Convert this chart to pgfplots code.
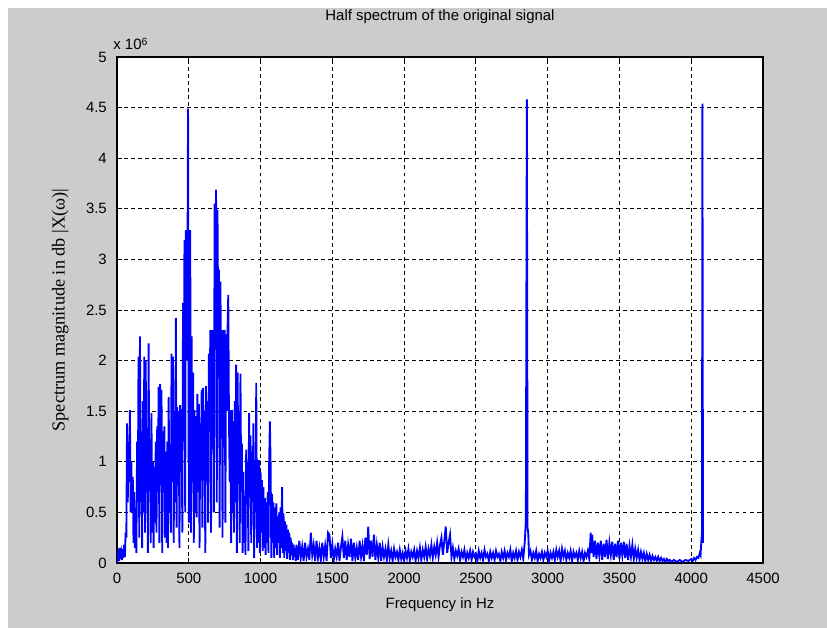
\documentclass[border=0pt]{standalone}
\usepackage{pgfplots}
\pgfplotsset{compat=1.18}
\usepackage{fontspec}
\setmainfont{Liberation Sans}
\newfontfamily\serifface{Liberation Serif}
\definecolor{figgray}{RGB}{204,204,204}
\definecolor{specblue}{RGB}{0,0,255}

% half spectrum, values in units of 10^6
\pgfplotstableread{
f mag
0 0.12
5 0.03
10 0.08
15 0.02
20 0.15
25 0.04
30 0.10
35 0.03
40 0.14
45 0.05
50 0.18
55 0.06
60 0.30
65 0.25
70 1.38
75 0.60
80 1.20
85 0.80
90 1.51
95 0.50
100 1.00
105 0.50
110 0.85
115 0.20
120 0.70
125 0.15
130 0.50
135 0.10
140 1.20
145 0.60
150 2.04
155 0.25
160 2.24
165 0.60
170 1.30
175 0.15
180 1.60
185 0.50
190 2.04
195 0.30
200 2.00
205 0.70
210 1.25
215 0.10
220 2.17
225 0.80
230 1.10
235 0.20
240 1.48
245 0.30
250 1.00
255 0.15
260 0.95
265 0.40
270 1.20
275 0.30
280 1.35
285 0.70
290 1.74
295 0.20
300 1.77
305 0.80
310 1.71
315 0.10
320 1.30
325 0.70
330 1.35
335 0.25
340 1.10
345 0.20
350 1.20
355 0.15
360 1.64
365 0.50
370 1.18
375 0.30
380 2.07
385 0.80
390 2.04
395 0.20
400 1.50
405 0.60
410 2.42
415 0.35
420 1.54
425 0.80
430 1.50
435 0.15
440 1.56
445 0.90
450 1.52
455 0.30
460 2.57
465 1.20
470 3.19
475 0.50
480 3.29
485 2.00
490 2.60
495 4.49
500 0.40
505 3.10
510 3.29
515 0.30
520 2.24
525 0.80
530 1.88
535 0.20
540 1.51
545 0.50
550 1.45
555 0.45
560 1.67
565 0.70
570 1.57
575 0.15
580 1.38
585 1.00
590 1.71
595 0.35
600 1.73
605 0.90
610 1.50
615 0.10
620 1.75
625 1.10
630 1.60
635 0.40
640 2.07
645 1.40
650 2.30
655 0.30
660 2.30
665 1.80
670 2.30
675 0.50
680 3.55
685 2.30
690 3.69
695 0.60
700 3.49
705 2.30
710 2.90
715 0.35
720 2.78
725 2.00
730 2.30
735 0.25
740 2.30
745 1.20
750 2.30
755 0.40
760 2.26
765 1.50
770 2.30
775 2.65
780 1.41
785 0.80
790 1.51
795 0.20
800 1.51
805 0.50
810 1.40
815 0.30
820 1.60
825 0.60
830 1.96
835 0.10
840 1.88
845 0.90
850 1.50
855 0.20
860 1.87
865 0.70
870 1.18
875 0.10
880 0.90
885 0.20
890 0.49
895 0.08
900 1.12
905 0.60
910 1.00
915 0.12
920 1.48
925 0.70
930 1.26
935 0.20
940 1.10
945 0.60
950 1.38
955 0.05
960 0.95
965 0.50
970 1.78
975 0.15
980 1.02
985 0.20
990 1.02
995 0.10
1000 0.90
1005 0.30
1010 0.82
1015 0.12
1020 0.75
1025 0.15
1030 0.64
1035 0.08
1040 0.60
1045 0.20
1050 0.70
1055 0.10
1060 1.00
1065 1.40
1070 0.98
1075 0.05
1080 0.68
1085 0.20
1090 0.60
1095 0.05
1100 0.55
1105 0.15
1110 0.59
1115 0.08
1120 0.46
1125 0.20
1130 0.50
1135 0.05
1140 0.55
1145 0.15
1150 0.75
1155 0.10
1160 0.49
1165 0.05
1170 0.41
1175 0.12
1180 0.38
1185 0.04
1190 0.33
1195 0.10
1200 0.30
1205 0.03
1210 0.25
1215 0.08
1220 0.20
1225 0.03
1230 0.18
1235 0.06
1240 0.15
1245 0.02
1250 0.18
1260 0.03
1270 0.22
1280 0.05
1290 0.16
1300 0.02
1310 0.20
1320 0.06
1330 0.14
1340 0.03
1350 0.30
1360 0.08
1370 0.18
1380 0.02
1390 0.22
1400 0.05
1410 0.15
1420 0.03
1430 0.20
1440 0.06
1450 0.17
1460 0.02
1470 0.30
1480 0.28
1490 0.05
1500 0.18
1510 0.03
1520 0.14
1530 0.06
1540 0.20
1550 0.02
1560 0.16
1570 0.26
1580 0.05
1590 0.22
1600 0.03
1610 0.18
1620 0.06
1630 0.24
1640 0.02
1650 0.20
1660 0.05
1670 0.15
1680 0.03
1690 0.22
1700 0.06
1710 0.17
1720 0.02
1730 0.25
1740 0.08
1750 0.36
1760 0.04
1770 0.22
1780 0.06
1790 0.28
1800 0.03
1810 0.18
1820 0.05
1830 0.20
1840 0.02
1850 0.16
1860 0.06
1870 0.14
1880 0.03
1890 0.18
1900 0.05
1910 0.12
1920 0.02
1930 0.14
1940 0.06
1950 0.11
1960 0.03
1970 0.13
1980 0.04
1990 0.10
2000 0.02
2010 0.12
2020 0.05
2030 0.14
2040 0.03
2050 0.11
2060 0.06
2070 0.13
2080 0.02
2090 0.12
2100 0.05
2110 0.15
2120 0.03
2130 0.13
2140 0.06
2150 0.16
2160 0.04
2170 0.14
2180 0.07
2190 0.18
2200 0.05
2210 0.16
2220 0.08
2230 0.20
2240 0.06
2250 0.18
2260 0.25
2270 0.08
2280 0.22
2290 0.36
2300 0.10
2310 0.20
2320 0.28
2330 0.06
2340 0.15
2350 0.04
2360 0.12
2370 0.07
2380 0.14
2390 0.03
2400 0.11
2410 0.06
2420 0.13
2430 0.02
2440 0.10
2450 0.05
2460 0.12
2470 0.03
2480 0.11
2490 0.06
2500 0.09
2510 0.02
2520 0.12
2530 0.05
2540 0.10
2550 0.03
2560 0.13
2570 0.06
2580 0.09
2590 0.02
2600 0.11
2610 0.05
2620 0.10
2630 0.03
2640 0.12
2650 0.06
2660 0.09
2670 0.02
2680 0.11
2690 0.05
2700 0.12
2710 0.03
2720 0.10
2730 0.06
2740 0.13
2750 0.02
2760 0.10
2770 0.05
2780 0.12
2790 0.03
2800 0.11
2810 0.06
2820 0.13
2830 0.04
2840 0.20
2848 0.41
2855 4.58
2860 0.35
2865 0.29
2870 0.08
2880 0.12
2890 0.03
2900 0.10
2910 0.05
2920 0.12
2930 0.02
2940 0.09
2950 0.05
2960 0.11
2970 0.03
2980 0.10
2990 0.06
3000 0.12
3010 0.02
3020 0.10
3030 0.05
3040 0.11
3050 0.03
3060 0.13
3070 0.06
3080 0.12
3090 0.02
3100 0.14
3110 0.06
3120 0.12
3130 0.03
3140 0.10
3150 0.05
3160 0.12
3170 0.02
3180 0.11
3190 0.06
3200 0.10
3210 0.03
3220 0.12
3230 0.05
3240 0.11
3250 0.02
3260 0.10
3270 0.06
3280 0.12
3290 0.04
3300 0.30
3305 0.10
3310 0.28
3320 0.06
3330 0.22
3340 0.04
3350 0.20
3360 0.07
3370 0.22
3380 0.03
3390 0.19
3400 0.06
3410 0.23
3420 0.04
3430 0.20
3440 0.08
3450 0.21
3460 0.03
3470 0.19
3480 0.06
3490 0.22
3500 0.04
3510 0.20
3520 0.07
3530 0.21
3540 0.05
3550 0.19
3560 0.03
3570 0.17
3580 0.06
3590 0.18
3600 0.04
3610 0.14
3620 0.05
3630 0.13
3640 0.03
3650 0.11
3660 0.04
3670 0.10
3680 0.02
3690 0.09
3700 0.03
3710 0.08
3720 0.02
3730 0.07
3740 0.03
3750 0.06
3760 0.02
3770 0.06
3780 0.02
3790 0.05
3800 0.02
3810 0.04
3820 0.01
3830 0.04
3840 0.02
3850 0.03
3860 0.01
3880 0.03
3900 0.01
3920 0.03
3940 0.01
3960 0.03
3980 0.02
4000 0.04
4010 0.02
4020 0.05
4030 0.03
4040 0.06
4050 0.05
4060 0.10
4065 0.08
4070 0.20
4075 0.30
4078 4.54
4082 0.20
}\spectrum

\begin{document}
\begin{tikzpicture}
% page size fixed to the screenshot, grey window with a white strip top/left
\path[use as bounding box] (0,0) rectangle (16.54,12.56);
\fill[white] (0,0) rectangle (16.54,12.56);
\fill[figgray] (0.16,0) rectangle (16.54,12.40);
\begin{axis}[
    at={(2.34cm,1.30cm)}, anchor=south west,
    scale only axis,
    width=12.92cm, height=10.12cm,
    xmin=0, xmax=4500, ymin=0, ymax=5,
    xtick={0,500,1000,1500,2000,2500,3000,3500,4000,4500},
    ytick={0,0.5,1,1.5,2,2.5,3,3.5,4,4.5,5},
    yticklabels={0,0.5,1,1.5,2,2.5,3,3.5,4,4.5,5},
    axis background/.style={fill=white},
    axis line style={black, line width=0.6pt},
    tick align=inside,
    tick pos=both,
    major tick length=3pt,
    tick style={black, line width=0.5pt},
    grid=major,
    major grid style={black, line width=0.5pt, dash pattern=on 2.2pt off 1.8pt},
    /pgf/number format/assume math mode=true,
    /pgf/number format/1000 sep={},
    tick label style={font=\fontsize{8.5}{10}\selectfont},
    xticklabel style={yshift=-0.08cm},
    yticklabel style={xshift=-0.08cm},
    xlabel={Frequency in Hz},
    xlabel style={at={(axis description cs:0.5,-0.083)}, anchor=center, font=\fontsize{8.5}{10}\selectfont},
    ylabel={\serifface Spectrum magnitude in db |X(ω)|},
    ylabel style={at={(axis description cs:-0.088,0.5)}, anchor=center, font=\fontsize{10.4}{12}\selectfont},
    clip mode=individual,
]
\addplot[specblue, line width=1.05pt, line join=miter] table[x=f, y=mag] {\spectrum};
\end{axis}
\node[font=\fontsize{8.5}{10}\selectfont] at (8.80cm,12.22cm) {Half spectrum of the original signal};
\node[anchor=base west, font=\fontsize{8.5}{10}\selectfont, inner sep=0pt]
    at (2.26cm,11.56cm) {x 10\textsuperscript{6}};
\end{tikzpicture}
\end{document}
